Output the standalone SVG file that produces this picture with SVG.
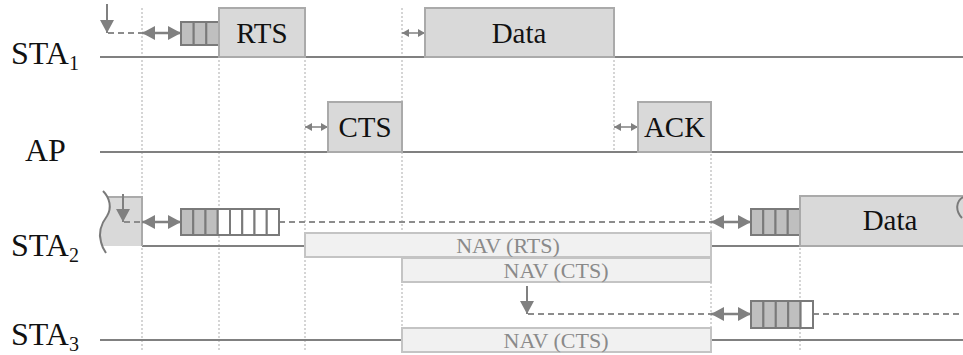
<svg xmlns="http://www.w3.org/2000/svg" width="963" height="355" viewBox="0 0 963 355">
<style>
text{font-family:'Liberation Serif','DejaVu Serif','Times New Roman',serif}
.lbl{font-size:32px;fill:#111}
.sub{font-size:20px}
.btxt{font-size:29px;fill:#111;text-anchor:middle}
.ntxt{font-size:22px;fill:#8a8a8a;text-anchor:middle}
.tl{stroke:#808080;stroke-width:2;fill:none}
.dot{stroke:#c8c8c8;stroke-width:1.5;stroke-dasharray:2 2;fill:none}
.dash{stroke:#8c8c8c;stroke-width:2;stroke-dasharray:6 4;fill:none}
.box{fill:#d9d9d9;stroke:#aaaaaa;stroke-width:2}
.nav{fill:#f1f1f1;stroke:#c4c4c4;stroke-width:2}
.slot{fill:#bfbfbf;stroke:#7a7a7a;stroke-width:2}
.slotw{fill:#ffffff;stroke:#7a7a7a;stroke-width:2}
.arr{stroke:#808080;stroke-width:2.5;fill:none;marker-start:url(#ah);marker-end:url(#ah)}
.arrs{stroke:#808080;stroke-width:1.5;fill:none;marker-start:url(#ahs);marker-end:url(#ahs)}
.down{stroke:#808080;stroke-width:2;fill:none;marker-end:url(#ah)}
</style>
<defs>
<marker id="ah" markerUnits="userSpaceOnUse" markerWidth="14" markerHeight="14" refX="13" refY="7" orient="auto-start-reverse"><path d="M0,0 L13,7 L0,14 Z" fill="#808080"/></marker>
<marker id="ahs" markerUnits="userSpaceOnUse" markerWidth="8" markerHeight="8" refX="7" refY="4" orient="auto-start-reverse"><path d="M0,0 L7,4 L0,8 Z" fill="#808080"/></marker>
</defs>
<rect width="963" height="355" fill="#ffffff"/>

<g id="labels">
<text class="lbl" x="11" y="64">STA<tspan class="sub" dy="6">1</tspan></text>
<text class="lbl" x="25" y="161">AP</text>
<text class="lbl" x="11" y="256">STA<tspan class="sub" dy="6">2</tspan></text>
<text class="lbl" x="11" y="345">STA<tspan class="sub" dy="6">3</tspan></text>
</g>

<g id="gridlines">
<line class="dot" x1="142" y1="8" x2="142" y2="352"/>
<line class="dot" x1="219" y1="8" x2="219" y2="352"/>
<line class="dot" x1="305" y1="8" x2="305" y2="352"/>
<line class="dot" x1="402" y1="8" x2="402" y2="352"/>
<line class="dot" x1="614" y1="8" x2="614" y2="152"/>
<line class="dot" x1="711" y1="102" x2="711" y2="352"/>
<line class="dot" x1="800" y1="196" x2="800" y2="352"/>
</g>

<g id="timelines">
<line class="tl" x1="100" y1="57" x2="963" y2="57"/>
<line class="tl" x1="100" y1="152" x2="963" y2="152"/>
<line class="tl" x1="142" y1="246" x2="963" y2="246"/>
<line class="tl" x1="100" y1="340" x2="963" y2="340"/>
</g>

<g id="connectors">
<line class="down" x1="107" y1="4" x2="107" y2="33"/>
<line class="dash" x1="108" y1="33" x2="142" y2="33"/>
<line class="arr" x1="142" y1="33" x2="181" y2="33"/>
<line class="arrs" x1="402" y1="33" x2="425" y2="33"/>
<line class="arrs" x1="305" y1="127" x2="328" y2="127"/>
<line class="arrs" x1="614" y1="127" x2="638" y2="127"/>
<line class="dash" x1="279" y1="222" x2="711" y2="222"/>
<line class="arr" x1="711" y1="222" x2="751" y2="222"/>
<line class="down" x1="527" y1="286" x2="527" y2="314"/>
<line class="dash" x1="528" y1="314" x2="711" y2="314"/>
<line class="arr" x1="711" y1="314" x2="751" y2="314"/>
<line class="dash" x1="813" y1="314" x2="963" y2="314"/>
</g>

<g id="sta1-backoff">
<rect class="slot" x="181" y="22" width="12.7" height="23"/>
<rect class="slot" x="193.7" y="22" width="12.7" height="23"/>
<rect class="slot" x="206.3" y="22" width="12.7" height="23"/>
</g>
<g id="sta1-rts"><rect class="box" x="219" y="8" width="86" height="49"/><text class="btxt" x="262" y="43">RTS</text></g>
<g id="sta1-data"><rect class="box" x="425" y="8" width="189" height="49"/><text class="btxt" x="519" y="43">Data</text></g>

<g id="ap-cts"><rect class="box" x="328" y="102" width="74" height="50"/><text class="btxt" x="365" y="137">CTS</text></g>
<g id="ap-ack"><rect class="box" x="638" y="102" width="73" height="50"/><text class="btxt" x="674.5" y="137">ACK</text></g>

<g id="sta2-prev">
<path d="M108 197 L142 197 L142 246 L101 246 C99 236 100 226 106 218 C111 211 111 203 108 197 Z" fill="#d9d9d9"/>
<path d="M108 197 L142 197 L142 246" fill="none" stroke="#aaaaaa" stroke-width="2"/>
<path d="M103 191 C110 198 112 208 107 216 C101 224 98 232 101 242 C102 247 104 250 106 253" fill="none" stroke="#7a7a7a" stroke-width="2"/>
<line class="down" x1="123" y1="194" x2="123" y2="222"/>
<line class="dash" x1="124" y1="222" x2="142" y2="222"/>
<line class="arr" x1="142" y1="222" x2="181" y2="222"/>
</g>
<g id="sta2-backoff1">
<rect class="slot" x="181" y="209" width="12.25" height="26"/>
<rect class="slot" x="193.25" y="209" width="12.25" height="26"/>
<rect class="slot" x="205.5" y="209" width="12.25" height="26"/>
<rect class="slotw" x="217.75" y="209" width="12.25" height="26"/>
<rect class="slotw" x="230" y="209" width="12.25" height="26"/>
<rect class="slotw" x="242.25" y="209" width="12.25" height="26"/>
<rect class="slotw" x="254.5" y="209" width="12.25" height="26"/>
<rect class="slotw" x="266.75" y="209" width="12.25" height="26"/>
</g>
<g id="sta2-nav-rts"><rect class="nav" x="305" y="233" width="406" height="24"/><text class="ntxt" x="508" y="253">NAV (RTS)</text></g>
<g id="sta2-nav-cts"><rect class="nav" x="402" y="258" width="309" height="24"/><text class="ntxt" x="556" y="278">NAV (CTS)</text></g>
<g id="sta2-backoff2">
<rect class="slot" x="751" y="209" width="12.25" height="26"/>
<rect class="slot" x="763.25" y="209" width="12.25" height="26"/>
<rect class="slot" x="775.5" y="209" width="12.25" height="26"/>
<rect class="slot" x="787.75" y="209" width="12.25" height="26"/>
</g>
<g id="sta2-data">
<rect class="box" x="800" y="196" width="175" height="50"/>
<text class="btxt" x="890" y="230">Data</text>
<path d="M963 197 C956 201 955 211 962 218" fill="none" stroke="#7a7a7a" stroke-width="2"/>
</g>

<g id="sta3-backoff">
<rect class="slot" x="751" y="301" width="12.4" height="27"/>
<rect class="slot" x="763.4" y="301" width="12.4" height="27"/>
<rect class="slot" x="775.8" y="301" width="12.4" height="27"/>
<rect class="slot" x="788.2" y="301" width="12.4" height="27"/>
<rect class="slotw" x="800.6" y="301" width="12.4" height="27"/>
</g>
<g id="sta3-nav-cts"><rect class="nav" x="402" y="328" width="309" height="24"/><text class="ntxt" x="556" y="348">NAV (CTS)</text></g>
</svg>
